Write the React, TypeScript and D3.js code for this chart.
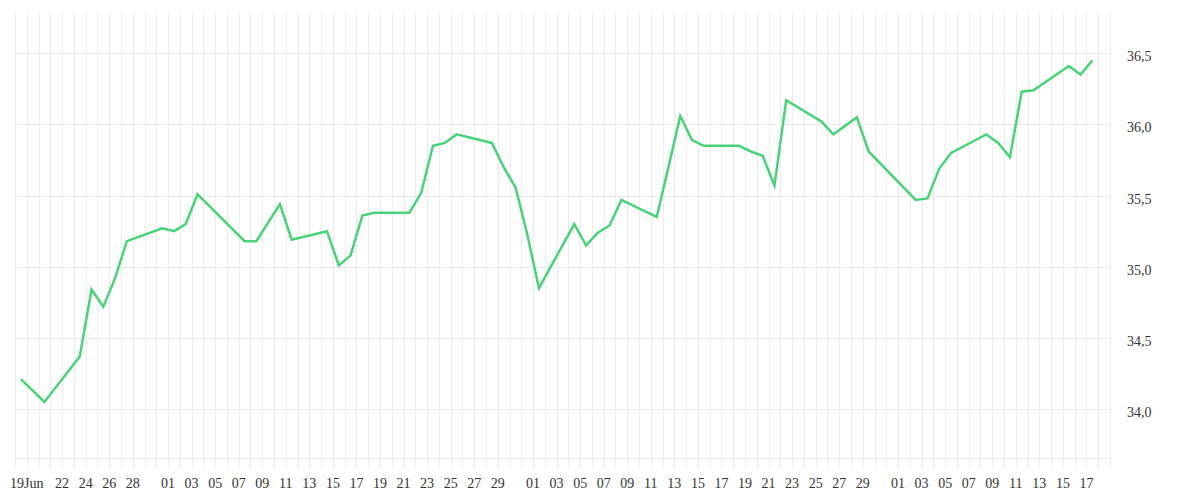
import React, { useEffect, useRef } from "react";
import * as d3 from "d3";

// Trading dates (2025) and closing values
const dates: string[] = [
  "2025-06-18", "2025-06-20", "2025-06-23", "2025-06-24", "2025-06-25", "2025-06-26", "2025-06-27",
  "2025-06-30", "2025-07-01", "2025-07-02", "2025-07-03", "2025-07-07", "2025-07-08", "2025-07-09",
  "2025-07-10", "2025-07-11", "2025-07-14", "2025-07-15", "2025-07-16", "2025-07-17", "2025-07-18",
  "2025-07-21", "2025-07-22", "2025-07-23", "2025-07-24", "2025-07-25", "2025-07-28", "2025-07-29",
  "2025-07-30", "2025-07-31", "2025-08-01", "2025-08-04", "2025-08-05", "2025-08-06", "2025-08-07",
  "2025-08-08", "2025-08-11", "2025-08-12", "2025-08-13", "2025-08-14", "2025-08-15", "2025-08-18",
  "2025-08-19", "2025-08-20", "2025-08-21", "2025-08-22", "2025-08-25", "2025-08-26", "2025-08-27",
  "2025-08-28", "2025-08-29", "2025-09-02", "2025-09-03", "2025-09-04", "2025-09-05", "2025-09-08",
  "2025-09-09", "2025-09-10", "2025-09-11", "2025-09-12", "2025-09-15", "2025-09-16", "2025-09-17",
];
const values: number[] = [
  34.21, 34.05, 34.37, 34.84, 34.72, 34.92, 35.18,
  35.27, 35.25, 35.30, 35.51, 35.18, 35.18, 35.31,
  35.44, 35.19, 35.25, 35.01, 35.08, 35.36, 35.38,
  35.38, 35.52, 35.85, 35.87, 35.93, 35.87, 35.70,
  35.56, 35.23, 34.85, 35.30, 35.15, 35.24, 35.29,
  35.47, 35.35, 35.70, 36.06, 35.89, 35.85, 35.85,
  35.81, 35.78, 35.57, 36.17, 36.02, 35.93, 35.99,
  36.05, 35.81, 35.47, 35.48, 35.69, 35.80, 35.93,
  35.87, 35.77, 36.23, 36.24, 36.41, 36.35, 36.45,
];

// x-axis tick labels
const xTickDates: string[] = [
  "2025-06-19", "2025-06-22", "2025-06-24", "2025-06-26", "2025-06-28",
  "2025-07-01", "2025-07-03", "2025-07-05", "2025-07-07", "2025-07-09", "2025-07-11", "2025-07-13",
  "2025-07-15", "2025-07-17", "2025-07-19", "2025-07-21", "2025-07-23", "2025-07-25", "2025-07-27", "2025-07-29",
  "2025-08-01", "2025-08-03", "2025-08-05", "2025-08-07", "2025-08-09", "2025-08-11", "2025-08-13",
  "2025-08-15", "2025-08-17", "2025-08-19", "2025-08-21", "2025-08-23", "2025-08-25", "2025-08-27", "2025-08-29",
  "2025-09-01", "2025-09-03", "2025-09-05", "2025-09-07", "2025-09-09", "2025-09-11", "2025-09-13",
  "2025-09-15", "2025-09-17",
];
const yTicks: number[] = [34.0, 34.5, 35.0, 35.5, 36.0, 36.5];

const xDomainStart = "2025-06-18";
const xDomainEnd = "2025-09-19";
const yDomain: [number, number] = [33.66, 36.79];

const parse = (s: string) => {
  const [y, m, d] = s.split("-").map(Number);
  return new Date(y, m - 1, d);
};

export default function App() {
  const ref = useRef<SVGSVGElement>(null);

  useEffect(() => {
    const svg = d3.select(ref.current);
    svg.selectAll("*").remove();

    const left = 15, right = 1110, top = 12, bottom = 457.5;
    const x = d3.scaleTime().domain([parse(xDomainStart), parse(xDomainEnd)]).range([left, right]);
    const y = d3.scaleLinear().domain(yDomain).range([bottom, top]);

    const grid = "#ececec";
    const font = "'Liberation Serif', 'Times New Roman', serif";

    // vertical daily gridlines
    const days = d3.timeDay.range(parse(xDomainStart), d3.timeDay.offset(parse(xDomainEnd), 1));
    svg.append("g")
      .selectAll("line")
      .data(days)
      .join("line")
      .attr("x1", (d) => Math.round(x(d)) + 0.5)
      .attr("x2", (d) => Math.round(x(d)) + 0.5)
      .attr("y1", top)
      .attr("y2", bottom + 11)
      .attr("stroke", grid)
      .attr("stroke-width", 1);

    // horizontal gridlines
    svg.append("g")
      .selectAll("line")
      .data(yTicks)
      .join("line")
      .attr("x1", left)
      .attr("x2", right)
      .attr("y1", (d) => Math.round(y(d)) + 0.5)
      .attr("y2", (d) => Math.round(y(d)) + 0.5)
      .attr("stroke", grid);

    svg.append("line")
      .attr("x1", left).attr("x2", right)
      .attr("y1", Math.round(bottom) + 0.5).attr("y2", Math.round(bottom) + 0.5)
      .attr("stroke", grid);

    // y labels
    const fmt = (v: number) => v.toFixed(1).replace(".", ",");
    svg.append("g")
      .selectAll("text")
      .data(yTicks)
      .join("text")
      .attr("x", right + 17)
      .attr("y", (d) => y(d) + 8)
      .attr("font-family", font)
      .attr("font-size", 14)
      .attr("fill", "#333")
      .text((d) => fmt(d));

    // x labels
    svg.append("g")
      .selectAll("text")
      .data(xTickDates.map(parse))
      .join("text")
      .attr("x", (d) => x(d))
      .attr("y", 488)
      .attr("text-anchor", "middle")
      .attr("font-family", font)
      .attr("font-size", 14)
      .attr("fill", "#333")
      .text((d, i) => (i === 0 ? d3.timeFormat("%d%b")(d) : d3.timeFormat("%d")(d)));

    // line
    const pts = dates.map((s, i) => ({ t: d3.timeHour.offset(parse(s), 12), v: values[i] }));
    const line = d3.line<{ t: Date; v: number }>().x((d) => x(d.t)).y((d) => y(d.v));
    svg.append("path")
      .datum(pts)
      .attr("d", line)
      .attr("fill", "none")
      .attr("stroke", "#4ad27a")
      .attr("stroke-width", 2.5)
      .attr("stroke-linejoin", "miter");
  }, []);

  return (
    <svg
      ref={ref}
      width={1200}
      height={500}
      style={{ position: "absolute", left: 0, top: 0, background: "#fff" }}
    />
  );
}
